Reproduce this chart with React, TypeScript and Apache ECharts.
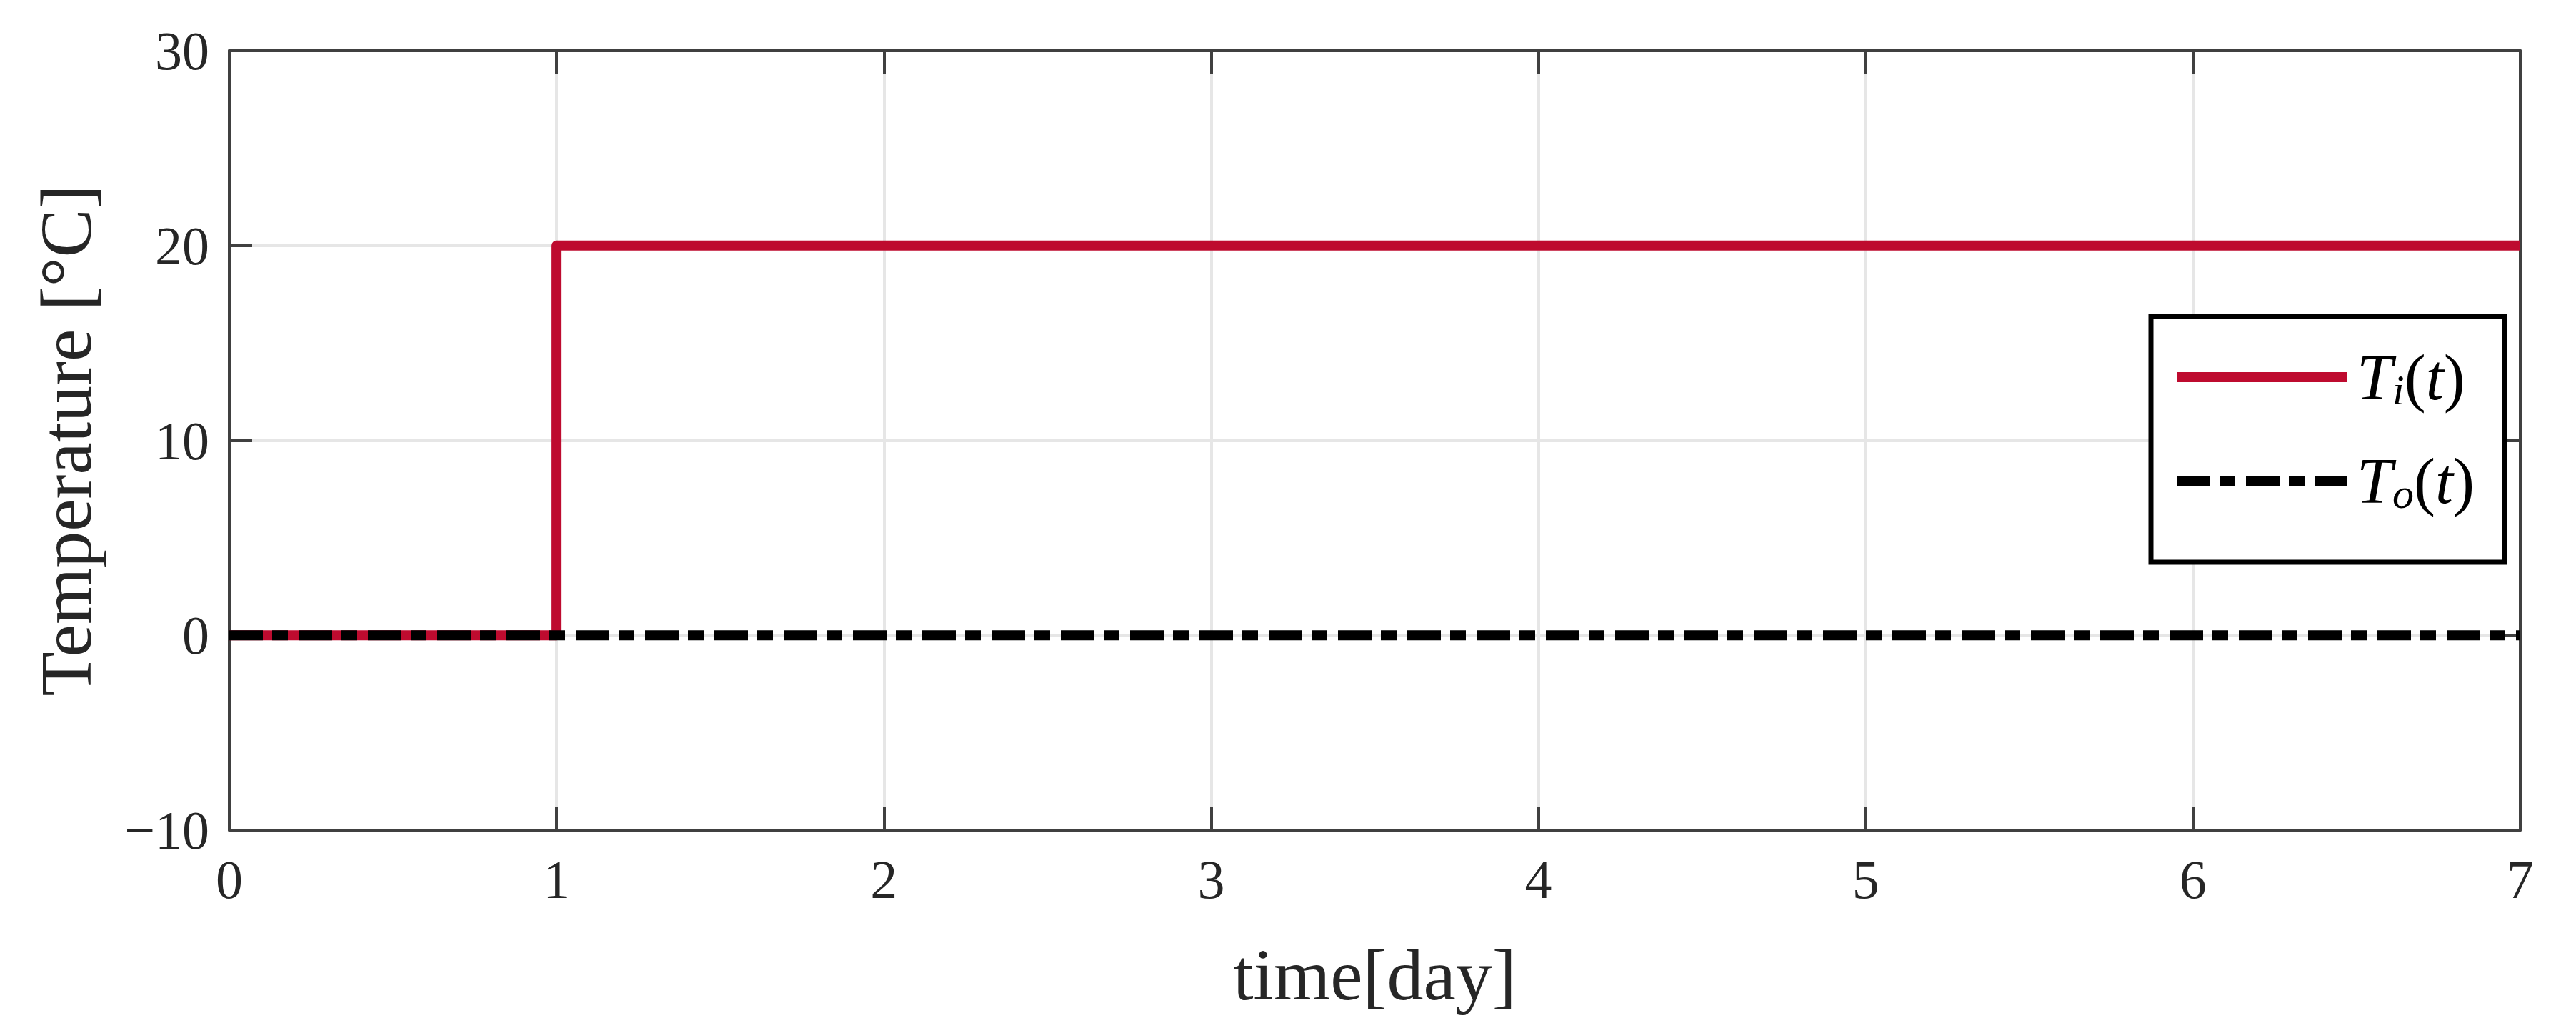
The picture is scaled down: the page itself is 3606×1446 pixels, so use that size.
import React, { useEffect, useRef } from "react";
import * as echarts from "echarts";

// ---- data ----
const xTickValues = [0, 1, 2, 3, 4, 5, 6, 7];
const yTickValues = [-10, 0, 10, 20, 30];
const insideTime = [0, 1, 1, 7];
const insideTemp = [0, 0, 20, 20];
const outsideTime = [0, 7];
const outsideTemp = [0, 0];
const seriesNames = ["Ti", "To"];
const subscripts = ["i", "o"];
const xAxisTitle = "time[day]";
const yAxisTitle = "Temperature [°C]";

export default function App() {
  const ref = useRef<HTMLDivElement>(null);
  useEffect(() => {
    const chart = echarts.init(ref.current!, null, { renderer: "svg" });
    const font = "'Liberation Serif', 'Times New Roman', serif";
    const axisColor = "#404040";
    const labelColor = "#262626";
    const red = "#BE0B2F";
    const dash = [47, 13, 22, 15];

    const axisLine = { show: true, onZero: false, lineStyle: { color: axisColor, width: 4 } };
    const axisTick = { show: true, inside: true, length: 32, lineStyle: { color: axisColor, width: 4 } };
    const gridLine = { show: true, lineStyle: { color: "#e6e6e6", width: 4 } };
    const xMin = xTickValues[0];
    const xMax = xTickValues[xTickValues.length - 1];
    const yMin = yTickValues[0];
    const yMax = yTickValues[yTickValues.length - 1];
    const minus = (v: number) => String(v).replace("-", "\u2212");

    const insideData = insideTime.map((t, i) => [t, insideTemp[i]]);
    const outsideData = outsideTime.map((t, i) => [t, outsideTemp[i]]);

    const legendLabel = (name: string) => {
      const idx = seriesNames.indexOf(name);
      return `{T|T}{s|${subscripts[idx]}}{p|(}{t|t}{p|)}`;
    };

    chart.setOption({
      animation: false,
      backgroundColor: "#ffffff",
      grid: { left: 321, top: 71, right: 78, bottom: 284, containLabel: false },
      xAxis: [
        {
          type: "value",
          min: xMin,
          max: xMax,
          interval: 1,
          position: "bottom",
          axisLine,
          axisTick,
          splitLine: gridLine,
          axisLabel: {
            show: true,
            margin: 31,
            fontSize: 76,
            fontFamily: font,
            color: labelColor,
            formatter: minus,
          },
          name: xAxisTitle,
          nameLocation: "middle",
          nameGap: 151,
          nameTextStyle: { fontSize: 102, fontFamily: font, color: labelColor },
        },
        {
          type: "value",
          min: xMin,
          max: xMax,
          interval: 1,
          position: "top",
          axisLine,
          axisTick,
          splitLine: { show: false },
          axisLabel: { show: false },
        },
      ],
      yAxis: [
        {
          type: "value",
          min: yMin,
          max: yMax,
          interval: 10,
          position: "left",
          axisLine,
          axisTick,
          splitLine: gridLine,
          axisLabel: {
            show: true,
            margin: 28,
            fontSize: 76,
            fontFamily: font,
            color: labelColor,
            formatter: minus,
            padding: [0, 0, 20, 0],
          },
          name: yAxisTitle,
          nameLocation: "middle",
          nameGap: 178,
          nameTextStyle: { fontSize: 102, fontFamily: font, color: labelColor },
        },
        {
          type: "value",
          min: yMin,
          max: yMax,
          interval: 10,
          position: "right",
          axisLine,
          axisTick,
          splitLine: { show: false },
          axisLabel: { show: false },
        },
      ],
      legend: {
        show: true,
        orient: "vertical",
        left: 3011,
        top: 443,
        padding: [40, 42, 66, 29],
        itemGap: 52,
        itemWidth: 239,
        itemHeight: 15,
        borderColor: "#000000",
        borderWidth: 7,
        backgroundColor: "#ffffff",
        selectedMode: false,
        data: [
          { name: seriesNames[0], lineStyle: { color: red, width: 14, type: "solid" }, itemStyle: { opacity: 0 } },
          { name: seriesNames[1], lineStyle: { color: "#000000", width: 14, type: dash }, itemStyle: { opacity: 0 } },
        ],
        formatter: legendLabel,
        textStyle: {
          padding: [0, 0, 0, 8],
          rich: {
            T: { fontSize: 90, lineHeight: 96, fontStyle: "italic", fontFamily: font, color: "#000" },
            s: { fontSize: 60, lineHeight: 60, fontStyle: "italic", fontFamily: font, color: "#000", verticalAlign: "bottom" },
            p: { fontSize: 90, lineHeight: 96, fontFamily: font, color: "#000" },
            t: { fontSize: 90, lineHeight: 96, fontStyle: "italic", fontFamily: font, color: "#000" },
          },
        },
      },
      series: [
        {
          name: seriesNames[0],
          type: "line",
          data: insideData,
          symbol: "none",
          lineStyle: { color: red, width: 14, join: "round" },
          itemStyle: { color: red },
          z: 2,
        },
        {
          name: seriesNames[1],
          type: "line",
          data: outsideData,
          symbol: "none",
          lineStyle: { color: "#000000", width: 14, type: dash },
          itemStyle: { color: "#000000" },
          z: 3,
        },
      ],
    });
    return () => chart.dispose();
  }, []);
  return (
    <div
      ref={ref}
      style={{ position: "fixed", left: 0, top: 0, width: 3606, height: 1446, background: "#fff" }}
    />
  );
}
